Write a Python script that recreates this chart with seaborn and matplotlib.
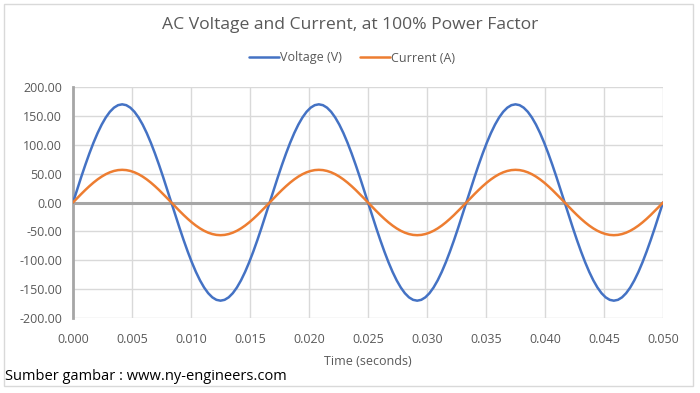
import matplotlib
matplotlib.use("Agg")
import matplotlib.pyplot as plt
from matplotlib.patches import Rectangle
import seaborn as sns
import pandas as pd

# Time samples (seconds)
time_s = [
    0.0, 0.000347, 0.000694, 0.001042, 0.001389, 0.001736, 0.002083, 0.002431,
    0.002778, 0.003125, 0.003472, 0.003819, 0.004167, 0.004514, 0.004861, 0.005208,
    0.005556, 0.005903, 0.00625, 0.006597, 0.006944, 0.007292, 0.007639, 0.007986,
    0.008333, 0.008681, 0.009028, 0.009375, 0.009722, 0.010069, 0.010417, 0.010764,
    0.011111, 0.011458, 0.011806, 0.012153, 0.0125, 0.012847, 0.013194, 0.013542,
    0.013889, 0.014236, 0.014583, 0.014931, 0.015278, 0.015625, 0.015972, 0.016319,
    0.016667, 0.017014, 0.017361, 0.017708, 0.018056, 0.018403, 0.01875, 0.019097,
    0.019444, 0.019792, 0.020139, 0.020486, 0.020833, 0.021181, 0.021528, 0.021875,
    0.022222, 0.022569, 0.022917, 0.023264, 0.023611, 0.023958, 0.024306, 0.024653,
    0.025, 0.025347, 0.025694, 0.026042, 0.026389, 0.026736, 0.027083, 0.027431,
    0.027778, 0.028125, 0.028472, 0.028819, 0.029167, 0.029514, 0.029861, 0.030208,
    0.030556, 0.030903, 0.03125, 0.031597, 0.031944, 0.032292, 0.032639, 0.032986,
    0.033333, 0.033681, 0.034028, 0.034375, 0.034722, 0.035069, 0.035417, 0.035764,
    0.036111, 0.036458, 0.036806, 0.037153, 0.0375, 0.037847, 0.038194, 0.038542,
    0.038889, 0.039236, 0.039583, 0.039931, 0.040278, 0.040625, 0.040972, 0.041319,
    0.041667, 0.042014, 0.042361, 0.042708, 0.043056, 0.043403, 0.04375, 0.044097,
    0.044444, 0.044792, 0.045139, 0.045486, 0.045833, 0.046181, 0.046528, 0.046875,
    0.047222, 0.047569, 0.047917, 0.048264, 0.048611, 0.048958, 0.049306, 0.049653,
    0.05,
]

voltage_v = [
    0.00, 22.19, 44.00, 65.06, 85.00, 103.49, 120.21, 134.87,
    147.22, 157.06, 164.21, 168.55, 170.00, 168.55, 164.21, 157.06,
    147.22, 134.87, 120.21, 103.49, 85.00, 65.06, 44.00, 22.19,
    0.00, -22.19, -44.00, -65.06, -85.00, -103.49, -120.21, -134.87,
    -147.22, -157.06, -164.21, -168.55, -170.00, -168.55, -164.21, -157.06,
    -147.22, -134.87, -120.21, -103.49, -85.00, -65.06, -44.00, -22.19,
    0.00, 22.19, 44.00, 65.06, 85.00, 103.49, 120.21, 134.87,
    147.22, 157.06, 164.21, 168.55, 170.00, 168.55, 164.21, 157.06,
    147.22, 134.87, 120.21, 103.49, 85.00, 65.06, 44.00, 22.19,
    0.00, -22.19, -44.00, -65.06, -85.00, -103.49, -120.21, -134.87,
    -147.22, -157.06, -164.21, -168.55, -170.00, -168.55, -164.21, -157.06,
    -147.22, -134.87, -120.21, -103.49, -85.00, -65.06, -44.00, -22.19,
    0.00, 22.19, 44.00, 65.06, 85.00, 103.49, 120.21, 134.87,
    147.22, 157.06, 164.21, 168.55, 170.00, 168.55, 164.21, 157.06,
    147.22, 134.87, 120.21, 103.49, 85.00, 65.06, 44.00, 22.19,
    0.00, -22.19, -44.00, -65.06, -85.00, -103.49, -120.21, -134.87,
    -147.22, -157.06, -164.21, -168.55, -170.00, -168.55, -164.21, -157.06,
    -147.22, -134.87, -120.21, -103.49, -85.00, -65.06, -44.00, -22.19,
    0.00,
]

current_a = [
    0.00, 7.38, 14.64, 21.65, 28.28, 34.44, 40.00, 44.88,
    48.99, 52.26, 54.64, 56.09, 56.57, 56.09, 54.64, 52.26,
    48.99, 44.88, 40.00, 34.44, 28.28, 21.65, 14.64, 7.38,
    0.00, -7.38, -14.64, -21.65, -28.28, -34.44, -40.00, -44.88,
    -48.99, -52.26, -54.64, -56.09, -56.57, -56.09, -54.64, -52.26,
    -48.99, -44.88, -40.00, -34.44, -28.28, -21.65, -14.64, -7.38,
    0.00, 7.38, 14.64, 21.65, 28.28, 34.44, 40.00, 44.88,
    48.99, 52.26, 54.64, 56.09, 56.57, 56.09, 54.64, 52.26,
    48.99, 44.88, 40.00, 34.44, 28.28, 21.65, 14.64, 7.38,
    0.00, -7.38, -14.64, -21.65, -28.28, -34.44, -40.00, -44.88,
    -48.99, -52.26, -54.64, -56.09, -56.57, -56.09, -54.64, -52.26,
    -48.99, -44.88, -40.00, -34.44, -28.28, -21.65, -14.64, -7.38,
    0.00, 7.38, 14.64, 21.65, 28.28, 34.44, 40.00, 44.88,
    48.99, 52.26, 54.64, 56.09, 56.57, 56.09, 54.64, 52.26,
    48.99, 44.88, 40.00, 34.44, 28.28, 21.65, 14.64, 7.38,
    0.00, -7.38, -14.64, -21.65, -28.28, -34.44, -40.00, -44.88,
    -48.99, -52.26, -54.64, -56.09, -56.57, -56.09, -54.64, -52.26,
    -48.99, -44.88, -40.00, -34.44, -28.28, -21.65, -14.64, -7.38,
    0.00,
]

series_names = ["Voltage (V)", "Current (A)"]
x_ticks = [0.000, 0.005, 0.010, 0.015, 0.020, 0.025, 0.030, 0.035, 0.040, 0.045, 0.050]
y_ticks = [-200, -150, -100, -50, 0, 50, 100, 150, 200]

df = pd.DataFrame({
    "Time": time_s * 2,
    "Value": voltage_v + current_a,
    "Series": [series_names[0]] * len(time_s) + [series_names[1]] * len(time_s),
})

sns.set_theme(style="white")
plt.rcParams["font.family"] = ["Open Sans", "DejaVu Sans"]

TXT = "#595959"
GRID = "#D9D9D9"
AXIS = "#A6A6A6"

fig = plt.figure(figsize=(7.0, 3.93), dpi=100)
ax = fig.add_axes([73 / 700, 1 - 318 / 393, (663 - 73) / 700, (318 - 87) / 393])

sns.lineplot(data=df, x="Time", y="Value", hue="Series",
             palette={"Voltage (V)": "#4472C4", "Current (A)": "#ED7D31"},
             linewidth=1.8, ax=ax, legend=False, zorder=3, sort=False)

ax.set_xlim(0, 0.05)
ax.set_ylim(-200, 200)
ax.set_xticks(x_ticks)
ax.set_yticks(y_ticks)
ax.set_xticklabels([f"{v:.3f}" for v in x_ticks])
ax.set_yticklabels([f"{v:.2f}" for v in y_ticks])
ax.tick_params(axis="x", length=0, labelsize=9, colors=TXT, pad=11)
ax.tick_params(axis="y", length=0, labelsize=9, colors=TXT, pad=8)
ax.grid(True, color=GRID, linewidth=1.0, zorder=0)
ax.axhline(0, color=AXIS, linewidth=2.2, zorder=2)
for side in ["top", "right", "bottom"]:
    ax.spines[side].set_visible(False)
ax.spines["left"].set_color(AXIS)
ax.spines["left"].set_linewidth(2.0)
ax.set_xlabel("Time (seconds)", color=TXT, fontsize=9, labelpad=6)
ax.set_ylabel("")

# legend
handles = [plt.Line2D([], [], color="#4472C4", lw=1.8),
           plt.Line2D([], [], color="#ED7D31", lw=1.8)]
fig.legend(handles, series_names, loc="center", bbox_to_anchor=(352 / 700, 1 - 58 / 393),
           ncol=2, frameon=False, fontsize=9, labelcolor=TXT,
           handlelength=2.4, handletextpad=0.1, columnspacing=1.4)

fig.text(350 / 700, 1 - 25 / 393, "AC Voltage and Current, at 100% Power Factor",
         ha="center", va="center", fontsize=12.6, color=TXT)
fig.text(5 / 700, 1 - 377 / 393, "Sumber gambar : www.ny-engineers.com",
         ha="left", va="center", fontsize=10.5, color="black")

fig.patches.append(Rectangle((4 / 700, 1 - 386 / 393), (693 - 4) / 700, (386 - 4) / 393,
                             transform=fig.transFigure, fill=False,
                             edgecolor=GRID, linewidth=1.0))

fig.savefig("out.png", dpi=100, facecolor="white")
